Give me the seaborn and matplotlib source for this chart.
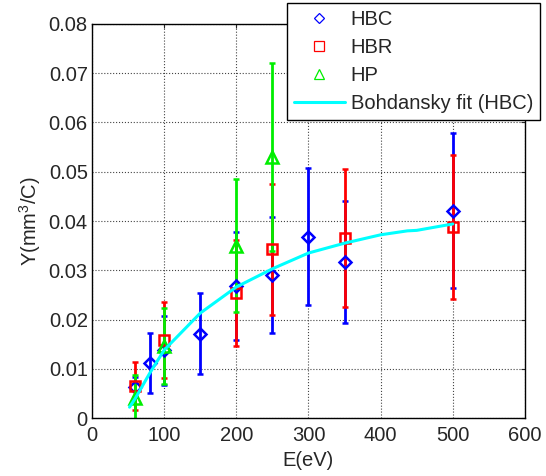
import matplotlib
matplotlib.use("Agg")
import matplotlib.pyplot as plt
from matplotlib.lines import Line2D
import seaborn as sns
import pandas as pd

# measured yields, Y(mm^3/C) vs E(eV)
hbc_e = [60, 80, 100, 150, 200, 250, 300, 350, 500]
hbc_y = [0.0063, 0.0112, 0.0138, 0.0171, 0.0268, 0.0290, 0.0368, 0.0316, 0.0421]
hbc_err = [0.0020, 0.0061, 0.0070, 0.0082, 0.0110, 0.0118, 0.0139, 0.0124, 0.0157]

hbr_e = [60, 100, 200, 250, 350, 500]
hbr_y = [0.0065, 0.0158, 0.0254, 0.0343, 0.0366, 0.0388]
hbr_err = [0.0049, 0.0077, 0.0107, 0.0133, 0.0140, 0.0146]

hp_e = [60, 100, 200, 250]
hp_y = [0.0040, 0.0147, 0.0350, 0.0530]
hp_err = [0.0047, 0.0077, 0.0135, 0.0190]

fit_e = [52, 60, 80, 100, 150, 200, 250, 300, 350, 400, 437, 450, 500]
fit_y = [0.0022, 0.0040, 0.0091, 0.0138, 0.0213, 0.0266, 0.0303, 0.0335, 0.0355, 0.0372, 0.0380, 0.0381, 0.0394]

FS = 14.5

sns.set_style("white")
plt.rcParams['font.family'] = ['Liberation Sans', 'DejaVu Sans']
plt.rcParams['mathtext.fontset'] = 'custom'
plt.rcParams['mathtext.rm'] = 'Liberation Sans'
plt.rcParams['mathtext.it'] = 'Liberation Sans'

fig = plt.figure(figsize=(5.46, 4.76), dpi=100)
ax = fig.add_axes([0.1685, 0.1218, 0.7930, 0.8278])

styles = [
    (hbc_e, hbc_y, hbc_err, 'D', '#0000ff', 6.5),
    (hbr_e, hbr_y, hbr_err, 's', '#ff0000', 7.5),
    (hp_e, hp_y, hp_err, '^', '#00ee00', 9),
]
for e, y, err, mk, col, ms in styles:
    ax.errorbar(e, y, yerr=err, fmt=mk, color=col, mfc='none', mec=col,
                ms=ms, mew=1.8, elinewidth=2, capsize=2.5, capthick=2)

fit_df = pd.DataFrame({'E': fit_e, 'Y': fit_y})
sns.lineplot(data=fit_df, x='E', y='Y', ax=ax, color='#00ffff', lw=2.2,
             sort=False, zorder=5)

ax.set_xlim(0, 600)
ax.set_ylim(0, 0.08)
ax.set_xticks(range(0, 601, 100))
ax.set_yticks([i / 100 for i in range(9)])
ax.set_yticklabels(['0'] + [f'{i / 100:.2f}' for i in range(1, 9)])
ax.grid(True, linestyle=':', color='#444444', lw=0.8)
ax.tick_params(direction='in', length=3, top=True, right=True, labelsize=FS, pad=3)
ax.tick_params(axis='x', pad=6)
for s in ax.spines.values():
    s.set_color('black')
    s.set_linewidth(1)
ax.set_xlabel('E(eV)', fontsize=FS, labelpad=4)
ax.set_ylabel(r'Y(mm$^3$/C)', fontsize=FS, labelpad=4)

handles = [
    Line2D([], [], ls='none', marker='D', ms=5.5, mfc='none', mec='#0000ff', mew=0.9),
    Line2D([], [], ls='none', marker='s', ms=6.5, mfc='none', mec='#ff0000', mew=0.9),
    Line2D([], [], ls='none', marker='^', ms=7.5, mfc='none', mec='#00ee00', mew=0.9),
    Line2D([], [], color='#00ffff', lw=2.2),
]
leg = ax.legend(handles, ['HBC', 'HBR', 'HP', 'Bohdansky fit (HBC)'],
                loc='upper right', bbox_to_anchor=(1.035, 1.053), fontsize=FS,
                frameon=True, fancybox=False, framealpha=1, edgecolor='black',
                handlelength=2.5, handletextpad=0.3, labelspacing=0.45,
                borderpad=0.35, borderaxespad=0)
leg.get_frame().set_linewidth(1)

fig.savefig('out.png', dpi=100)
